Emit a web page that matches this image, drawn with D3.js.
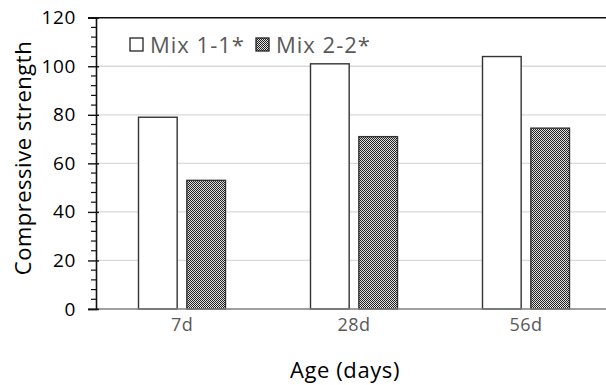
<!DOCTYPE html>
<html>
<head>
<meta charset="utf-8">
<script src="https://cdn.jsdelivr.net/npm/d3@7"></script>
<style>
  body { margin: 0; background: #fff; }
  svg { display: block; font-family: "Open Sans", sans-serif; }
</style>
</head>
<body>
<script>
// data
var ages = ["7d", "28d", "56d"];
var seriesNames = ["Mix 1-1*", "Mix 2-2*"];
var mix11 = [79, 101, 104];
var mix22 = [53, 71, 74.5];
var yTicks = [0, 20, 40, 60, 80, 100, 120];

var width = 606, height = 385;
var x0 = 96, x1 = 612, yTop = 17.7, yBot = 309;

var svg = d3.select("body").append("svg")
    .attr("width", width)
    .attr("height", height);

// checker pattern for second series
var defs = svg.append("defs");
var pat = defs.append("pattern")
    .attr("id", "chk")
    .attr("width", 2).attr("height", 2)
    .attr("patternUnits", "userSpaceOnUse");
pat.append("rect").attr("width", 2).attr("height", 2).attr("fill", "#e0e0e0");
pat.append("rect").attr("width", 1).attr("height", 1).attr("fill", "#222");
pat.append("rect").attr("x", 1).attr("y", 1).attr("width", 1).attr("height", 1).attr("fill", "#222");

var x = d3.scaleBand().domain(ages).range([x0, x1]);
var xs = d3.scaleBand().domain(seriesNames)
    .range([x.bandwidth() / 2 - 43.5, x.bandwidth() / 2 + 43.5])
    .paddingInner(0.2);
var y = d3.scaleLinear().domain([0, 120]).range([yBot, yTop]);

// gridlines
svg.append("g").selectAll("line")
    .data(yTicks.filter(function(d) { return d > 0 && d < 120; }))
    .enter().append("line")
    .attr("x1", x0).attr("x2", width)
    .attr("y1", function(d) { return y(d); })
    .attr("y2", function(d) { return y(d); })
    .attr("stroke", "#d9d9d9")
    .attr("stroke-width", 1.3);

// top border
svg.append("line")
    .attr("x1", 88).attr("x2", width)
    .attr("y1", y(120)).attr("y2", y(120))
    .attr("stroke", "#111").attr("stroke-width", 1.6);

// bars
var rows = ages.map(function(a, i) { return {age: a, vals: [mix11[i], mix22[i]]}; });
var grp = svg.append("g").selectAll("g")
    .data(rows)
    .enter().append("g")
    .attr("transform", function(d) { return "translate(" + x(d.age) + ",0)"; });
grp.selectAll("rect")
    .data(function(d) { return d.vals.map(function(v, k) { return {name: seriesNames[k], v: v, k: k}; }); })
    .enter().append("rect")
    .attr("x", function(d) { return xs(d.name); })
    .attr("width", xs.bandwidth())
    .attr("y", function(d) { return y(d.v); })
    .attr("height", function(d) { return yBot - y(d.v); })
    .attr("fill", function(d) { return d.k == 0 ? "#fff" : "url(#chk)"; })
    .attr("stroke", "#333")
    .attr("stroke-width", 1.4);

// x axis baseline
svg.append("line")
    .attr("x1", 88).attr("x2", width)
    .attr("y1", yBot).attr("y2", yBot)
    .attr("stroke", "#7f7f7f").attr("stroke-width", 1.6);

// y axis with major + minor ticks
var yAxis = d3.axisLeft(y).tickValues(yTicks).tickSize(8).tickPadding(12);
var ya = svg.append("g")
    .attr("transform", "translate(" + x0 + ",0)")
    .call(yAxis);
ya.select(".domain").attr("stroke", "#111").attr("stroke-width", 1.6);
ya.selectAll(".tick line").attr("stroke", "#111").attr("stroke-width", 1.4).attr("x2", -8).attr("x1", 3);
ya.selectAll(".tick text")
    .attr("font-size", 19)
    .attr("letter-spacing", 0.6)
    .attr("fill", "#000")
    .style("font-family", "'Open Sans', sans-serif");
var minor = d3.range(0, 121, 4).filter(function(d) { return d % 20 != 0; });
svg.append("g").selectAll("line")
    .data(minor)
    .enter().append("line")
    .attr("x1", x0 - 5).attr("x2", x0)
    .attr("y1", function(d) { return y(d); })
    .attr("y2", function(d) { return y(d); })
    .attr("stroke", "#111").attr("stroke-width", 1.2);

// x category labels
svg.append("g").selectAll("text")
    .data(ages)
    .enter().append("text")
    .attr("x", function(d) { return x(d) + x.bandwidth() / 2; })
    .attr("y", 331)
    .attr("text-anchor", "middle")
    .attr("font-size", 18)
    .attr("letter-spacing", 0.4)
    .attr("fill", "#595959")
    .text(function(d) { return d; });

// axis titles
svg.append("text")
    .attr("x", 345).attr("y", 378)
    .attr("text-anchor", "middle")
    .attr("font-size", 22)
    .attr("letter-spacing", 0.6)
    .attr("fill", "#000")
    .text("Age (days)");
svg.append("text")
    .attr("transform", "translate(31,158) rotate(-90)")
    .attr("text-anchor", "middle")
    .attr("font-size", 22)
    .attr("letter-spacing", 0.5)
    .attr("fill", "#000")
    .text("Compressive strength");

// legend
var legX = [130, 256];
var leg = svg.append("g").selectAll("g")
    .data(seriesNames)
    .enter().append("g")
    .attr("transform", function(d, i) { return "translate(" + legX[i] + ",38)"; });
leg.append("rect")
    .attr("width", 13).attr("height", 13)
    .attr("fill", function(d, i) { return i == 0 ? "#fff" : "url(#chk)"; })
    .attr("stroke", "#222")
    .attr("stroke-width", 1.3);
leg.append("text")
    .attr("x", 20).attr("y", 14.5)
    .attr("font-size", 22)
    .attr("letter-spacing", 1)
    .attr("fill", "#595959")
    .text(function(d) { return d; });
</script>
</body>
</html>
